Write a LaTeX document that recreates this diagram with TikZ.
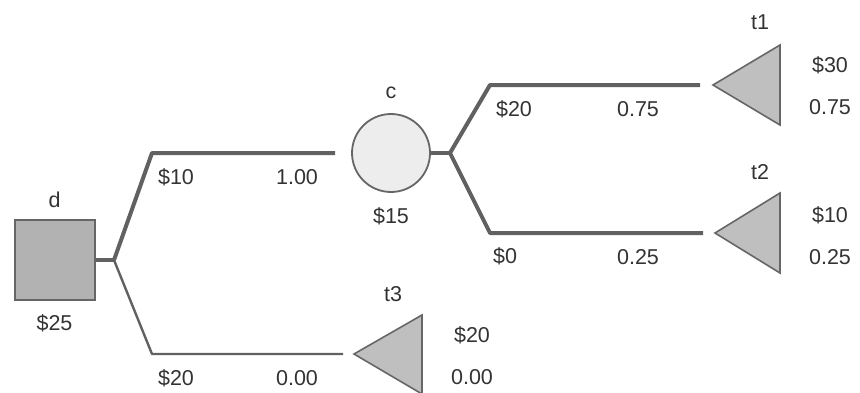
\documentclass[tikz,border=0pt]{standalone}
\usepackage{fontspec}
\setmainfont{Liberation Sans}
\begin{document}
\begin{tikzpicture}[x=1pt,y=-1pt,
  lbl/.style={font=\fontsize{21.5}{24}\selectfont, text=black!80, inner sep=0pt},
  edge/.style={draw=black!62, line width=4pt},
  thinedge/.style={draw=black!62, line width=2.4pt},
  tri/.style={draw=black!60, line width=1.6pt, fill=black!25, line join=miter}]
\useasboundingbox (0,0) rectangle (860,392);
% decision node
\node[draw=black!60, line width=2pt, fill=black!30, minimum size=80pt, inner sep=0pt] (d) at (54.5,260) {};
\node[lbl] (dl) at (54.5,200) {d};
\node[lbl] (dv) at (54.5,323) {\$25};
% chance node
\node[circle, draw=black!60, line width=1.8pt, fill=black!7, minimum size=78pt, inner sep=0pt] (c) at (391,153) {};
\node[lbl] (cl) at (391,93) {c};
\node[lbl] (cv) at (391,216) {\$15};
% terminals
\coordinate (t1) at (713,85);
\coordinate (t2) at (715,233);
\coordinate (t3) at (354,354);
\draw[tri] (t1) -- (780,45) -- (780,125) -- cycle;
\draw[tri] (t2) -- (780,193) -- (780,273) -- cycle;
\draw[tri] (t3) -- (422,315) -- (422,394) -- cycle;
\node[lbl] (t1l) at (760,22) {t1};
\node[lbl] (t1v) at (830,65) {\$30};
\node[lbl] (t1p) at (830,107) {0.75};
\node[lbl] (t2l) at (760,172) {t2};
\node[lbl] (t2v) at (830,215) {\$10};
\node[lbl] (t2p) at (830,257) {0.25};
\node[lbl] (t3l) at (393,294) {t3};
\node[lbl] (t3v) at (472,335) {\$20};
\node[lbl] (t3p) at (472,377) {0.00};
% branch points
\coordinate (bd) at (114,260);
\coordinate (bc) at (450,153);
% connectors from d
\draw[edge] (d.east) -- (bd);
\draw[edge, line join=round] (bd) -- (152,153) -- ([xshift=-16pt]c.west);
\draw[thinedge, line join=round] (bd) -- (152,354) -- ([xshift=-11pt]t3);
% connectors from c
\draw[edge] (c.east) -- (bc);
\draw[edge, line join=round] (bc) -- (490,85) -- ([xshift=-13pt]t1);
\draw[edge, line join=round] (bc) -- (490,233) -- ([xshift=-12pt]t2);
% branch labels
\node[lbl] (b1) at (176,177) {\$10};
\node[lbl] (b1p) at (297,177) {1.00};
\node[lbl] (b2) at (176,378) {\$20};
\node[lbl] (b2p) at (297,378) {0.00};
\node[lbl] (b3) at (514,109) {\$20};
\node[lbl] (b3p) at (638,109) {0.75};
\node[lbl] (b4) at (505,256) {\$0};
\node[lbl] (b4p) at (638,257) {0.25};
\end{tikzpicture}
\end{document}
